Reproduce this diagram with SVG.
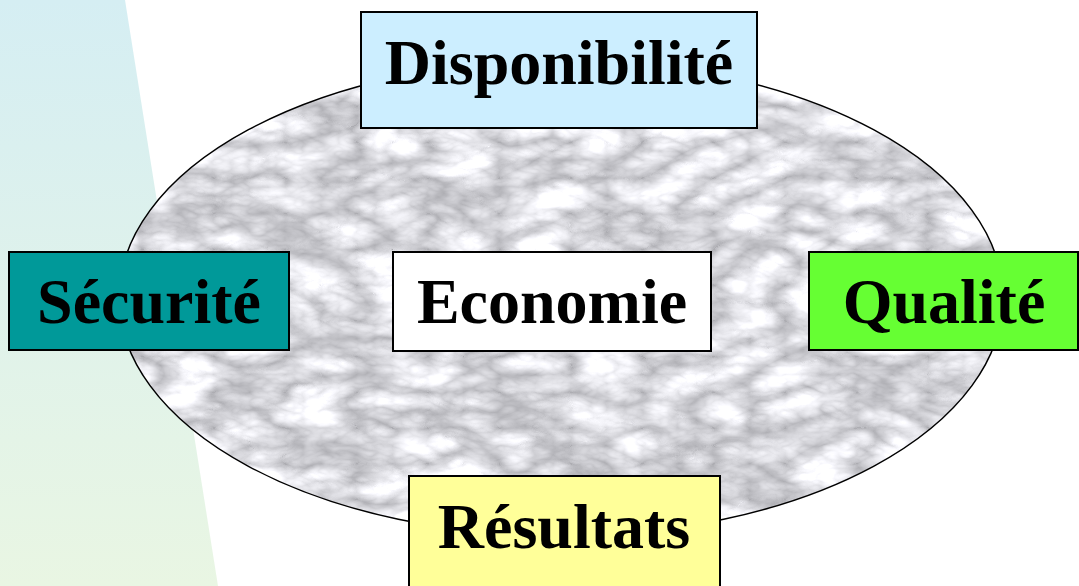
<svg xmlns="http://www.w3.org/2000/svg" width="1079" height="586" viewBox="0 0 1079 586">
  <defs>
    <linearGradient id="bgGrad" x1="0" y1="0" x2="0" y2="1">
      <stop offset="0" stop-color="#d5eef3"/>
      <stop offset="1" stop-color="#e9f6e3"/>
    </linearGradient>
    <filter id="marble" x="0" y="0" width="100%" height="100%" color-interpolation-filters="sRGB">
      <feTurbulence type="turbulence" baseFrequency="0.014 0.028" numOctaves="4" seed="7" result="t"/>
      <feColorMatrix in="t" type="matrix" values="0.6 0 0 0 0.68  0.6 0 0 0 0.68  0.6 0 0 0 0.7  0 0 0 0 1" result="g"/>
      <feComposite in="g" in2="SourceAlpha" operator="in"/>
    </filter>
    <style>
      .box { stroke: #000; stroke-width: 2; }
      .lbl { font-family: "Liberation Serif", "Times New Roman", serif; font-weight: bold; font-size: 64px; fill: #000; text-anchor: middle; }
    </style>
  </defs>
  <rect width="1079" height="586" fill="#ffffff"/>
  <polygon points="0,0 125,0 218,586 0,586" fill="url(#bgGrad)"/>
  <g id="ellipse">
    <ellipse cx="561" cy="298" rx="442" ry="238" fill="#e6e6e9" filter="url(#marble)"/>
    <ellipse cx="561" cy="298" rx="442" ry="238" fill="none" stroke="#000" stroke-width="1.5"/>
  </g>
  <g id="connectors"></g>
  <g id="disponibilite">
    <rect class="box" x="361" y="12" width="396" height="116" fill="#cceeff"/>
    <text class="lbl" x="559" y="84">Disponibilité</text>
  </g>
  <g id="securite">
    <rect class="box" x="9" y="252" width="280" height="98" fill="#009999"/>
    <text class="lbl" x="149" y="323">Sécurité</text>
  </g>
  <g id="economie">
    <rect class="box" x="393" y="252" width="318" height="99" fill="#ffffff"/>
    <text class="lbl" x="552" y="323">Economie</text>
  </g>
  <g id="qualite">
    <rect class="box" x="809" y="252" width="269" height="98" fill="#66ff33"/>
    <text class="lbl" x="944" y="323">Qualité</text>
  </g>
  <g id="resultats">
    <rect class="box" x="409" y="476" width="311" height="120" fill="#ffff99"/>
    <text class="lbl" x="564" y="548">Résultats</text>
  </g>
</svg>
